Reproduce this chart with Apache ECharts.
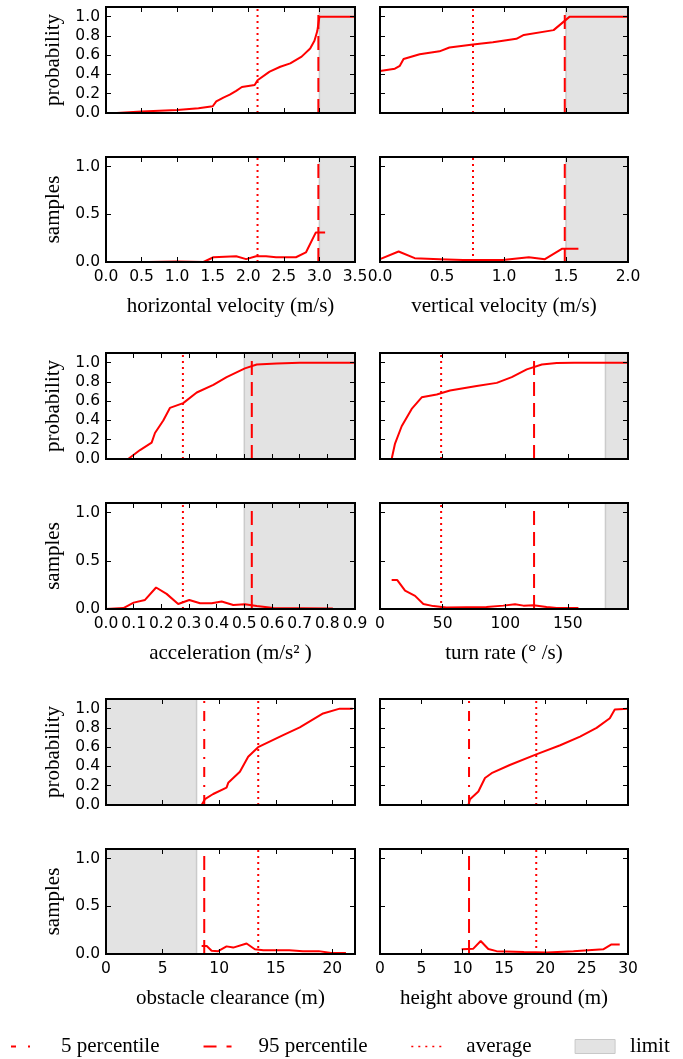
<!DOCTYPE html>
<html><head><meta charset="utf-8">
<script src="https://cdn.jsdelivr.net/npm/echarts@6/dist/echarts.min.js"></script>
<style>html,body{margin:0;padding:0;background:#fff}#c{width:683px;height:1059px}</style>
</head><body><div id="c"></div><script>
// ---- data ----
const varNames = ['horizontal velocity (m/s)', 'vertical velocity (m/s)', 'acceleration (m/s² )', 'turn rate (° /s)', 'obstacle clearance (m)', 'height above ground (m)'];
const xMaxes = [3.5, 2.0, 0.9, 198, 22, 30];
const xIntervals = [0.5, 0.5, 0.1, 50, 5, 5];
const xDecimals = [1, 1, 1, 0, 0, 0];
const showXMaxLabel = [true, true, true, false, false, true];
const yLabels = ['probability', 'samples'];
const yMax = 1.1;
const yIntervals = [0.2, 0.5];

const averages = [2.13, 0.75, 0.278, 48.8, 13.45, 18.9];
const percentile95 = [2.985, 1.49, 0.527, 123, null, null];
const percentile5 = [null, null, null, null, 8.68, 10.77];
const limitStart = [3.0, 1.5, 0.5, 180, 0, null];
const limitEnd = [3.5, 2.0, 0.9, 198, 8.0, null];
const limitEdge = [3.0, 1.5, 0.5, 180, 8.0, null];

const hvProbX = [0.15, 0.5, 1.0, 1.3, 1.5, 1.55, 1.65, 1.74, 1.83, 1.91, 2.09, 2.13, 2.3, 2.45, 2.59, 2.75, 2.87, 2.93, 2.97, 3.0, 3.5];
const hvProbY = [0.0, 0.015, 0.03, 0.05, 0.07, 0.12, 0.16, 0.19, 0.23, 0.27, 0.29, 0.34, 0.43, 0.48, 0.515, 0.585, 0.67, 0.75, 0.85, 1.0, 1.0];
const hvSampX = [0.15, 0.6, 1.0, 1.37, 1.51, 1.83, 1.97, 2.11, 2.25, 2.39, 2.67, 2.81, 2.95, 3.08];
const hvSampY = [0.0, 0.0, 0.005, 0.0, 0.05, 0.06, 0.03, 0.06, 0.06, 0.05, 0.05, 0.10, 0.31, 0.31];

const vvProbX = [0, 0.12, 0.16, 0.19, 0.32, 0.48, 0.56, 0.75, 0.91, 1.1, 1.16, 1.4, 1.53, 2.0];
const vvProbY = [0.436, 0.46, 0.49, 0.56, 0.61, 0.64, 0.68, 0.71, 0.735, 0.77, 0.81, 0.86, 1.0, 1.0];
const vvSampX = [0, 0.15, 0.28, 0.48, 0.67, 0.99, 1.2, 1.33, 1.47, 1.6];
const vvSampY = [0.03, 0.11, 0.04, 0.03, 0.02, 0.02, 0.05, 0.03, 0.14, 0.14];

const accProbX = [0, 0.08, 0.123, 0.165, 0.177, 0.207, 0.231, 0.279, 0.328, 0.388, 0.436, 0.502, 0.545, 0.617, 0.7, 0.9];
const accProbY = [0, 0, 0.093, 0.17, 0.27, 0.40, 0.53, 0.58, 0.69, 0.77, 0.85, 0.94, 0.98, 0.99, 1.0, 1.0];
const accSampX = [0, 0.063, 0.1, 0.141, 0.181, 0.219, 0.261, 0.301, 0.34, 0.382, 0.418, 0.46, 0.502, 0.545, 0.605, 0.82];
const accSampY = [0, 0.01, 0.066, 0.094, 0.223, 0.157, 0.052, 0.094, 0.06, 0.06, 0.077, 0.042, 0.05, 0.03, 0.01, 0.005];

const trProbX = [9.3, 12, 17.3, 25.3, 33.3, 45.3, 55.9, 77.2, 93.2, 105.2, 117.2, 129.2, 141.1, 155, 198];
const trProbY = [0, 0.16, 0.34, 0.52, 0.64, 0.67, 0.71, 0.757, 0.79, 0.85, 0.93, 0.98, 0.995, 1.0, 1.0];
const trSampX = [9.3, 13.8, 20, 28, 34.6, 42.6, 53, 85, 98.5, 107.8, 114.5, 122.5, 133, 141, 158.4];
const trSampY = [0.30, 0.30, 0.19, 0.136, 0.052, 0.03, 0.016, 0.02, 0.035, 0.05, 0.035, 0.04, 0.02, 0.01, 0.01];

const obProbX = [8.45, 8.74, 9.47, 10.65, 10.8, 11.83, 12.56, 13.44, 15.65, 17.12, 19.18, 20.65, 21.8];
const obProbY = [0, 0.06, 0.114, 0.18, 0.23, 0.345, 0.50, 0.60, 0.726, 0.806, 0.95, 1.0, 1.0];
const obSampX = [8.45, 8.9, 9.33, 9.91, 10.65, 11.24, 12.42, 13.15, 13.9, 16.2, 17.4, 18.8, 19.9, 21.2];
const obSampY = [0.084, 0.084, 0.035, 0.03, 0.08, 0.067, 0.11, 0.05, 0.04, 0.04, 0.03, 0.03, 0.01, 0.01];

const hgProbX = [10.08, 10.69, 10.89, 11.9, 12.7, 13.5, 15.7, 18.9, 21.8, 24.2, 26.2, 27.8, 28.4, 28.6, 30];
const hgProbY = [0, 0, 0.06, 0.14, 0.28, 0.33, 0.415, 0.526, 0.62, 0.71, 0.80, 0.90, 0.99, 1.0, 1.0];
const hgSampX = [9.88, 11.29, 12.18, 13.1, 14.1, 17.4, 20.2, 23.4, 27.0, 28.0, 29.0];
const hgSampY = [0.049, 0.056, 0.136, 0.052, 0.03, 0.02, 0.015, 0.03, 0.049, 0.10, 0.10];

const probXs = [hvProbX, vvProbX, accProbX, trProbX, obProbX, hgProbX];
const probYs = [hvProbY, vvProbY, accProbY, trProbY, obProbY, hgProbY];
const sampXs = [hvSampX, vvSampX, accSampX, trSampX, obSampX, hgSampX];
const sampYs = [hvSampY, vvSampY, accSampY, trSampY, obSampY, hgSampY];

// ---- layout / style ----
const colLeft = [106, 380], colWidth = [249, 248];
const rowTops = [7, 157, 353, 503, 699, 849];
const rowHeights = [106, 105, 106, 106, 106, 105];
const RED = '#ff0000';
const SERIF = 'Liberation Serif';
const SANS = 'DejaVu Sans';
const DOT = [2, 4], DASH = [14, 7], DASHDOT = [10, 8, 2, 8];

const zip = (xs, ys) => xs.map((x, i) => [x, ys[i]]);
const frame = {show: true, onZero: false, lineStyle: {color: '#000', width: 2, cap: 'square'}};
const tick = {show: true, inside: true, length: 5, lineStyle: {color: '#000', width: 1}};

const grids = [], xAxes = [], yAxes = [], series = [];
for (let v = 0; v < 6; v++) {
  const col = v % 2, pr = Math.floor(v / 2);
  for (let k = 0; k < 2; k++) {
    const g = 2 * v + k;
    const r = pr * 2 + k;
    grids.push({left: colLeft[col], top: rowTops[r], width: colWidth[col], height: rowHeights[r], containLabel: false});
    const dec = xDecimals[v];
    const xBase = {gridIndex: g, type: 'value', min: 0, max: xMaxes[v], interval: xIntervals[v], z: 10,
      axisLine: frame, axisTick: tick, splitLine: {show: false}};
    xAxes.push(Object.assign({}, xBase, {position: 'bottom',
      axisLabel: {show: k === 1, margin: 7, fontFamily: SANS, fontSize: 15.5, color: '#000',
        showMaxLabel: showXMaxLabel[v], showMinLabel: true, formatter: val => val.toFixed(dec)},
      name: k === 1 ? varNames[v] : '', nameLocation: 'middle', nameGap: 34,
      nameTextStyle: {fontFamily: SERIF, fontSize: 21, color: '#000'}}));
    xAxes.push(Object.assign({}, xBase, {position: 'top', axisLabel: {show: false}}));
    const yBase = {gridIndex: g, type: 'value', min: 0, max: yMax, interval: yIntervals[k], z: 10,
      axisLine: frame, axisTick: tick, splitLine: {show: false}};
    yAxes.push(Object.assign({}, yBase, {position: 'left',
      axisLabel: {show: col === 0, margin: 6, fontFamily: SANS, fontSize: 15.5, color: '#000',
        showMaxLabel: false, formatter: val => val.toFixed(1)},
      name: col === 0 ? yLabels[k] : '', nameLocation: 'middle', nameGap: 42, nameRotate: 90,
      nameTextStyle: {fontFamily: SERIF, fontSize: 21, color: '#000'}}));
    yAxes.push(Object.assign({}, yBase, {position: 'right', axisLabel: {show: false}}));

    const ax = {xAxisIndex: 2 * g, yAxisIndex: 2 * g};
    if (limitStart[v] !== null) {
      series.push(Object.assign({type: 'line', name: 'limit', data: [], z: 1, silent: true,
        markArea: {silent: true, itemStyle: {color: '#e3e3e3'}, data: [[{xAxis: limitStart[v]}, {xAxis: limitEnd[v]}]]}}, ax));
      series.push(Object.assign({type: 'line', data: [[limitEdge[v], 0], [limitEdge[v], yMax]], z: 1, silent: true,
        symbol: 'none', lineStyle: {color: '#cbcbcb', width: 1.5}}, ax));
    }
    const xs = k === 0 ? probXs[v] : sampXs[v];
    const ys = k === 0 ? probYs[v] : sampYs[v];
    series.push(Object.assign({type: 'line', data: zip(xs, ys), symbol: 'none', showSymbol: false, silent: true, z: 3,
      lineStyle: {color: RED, width: 2}}, ax));
    series.push(Object.assign({type: 'line', name: 'average', data: [[averages[v], 0], [averages[v], yMax]], symbol: 'none', silent: true, z: 4,
      lineStyle: {color: RED, width: 2, type: DOT}, itemStyle: {color: RED}}, ax));
    if (percentile95[v] !== null) {
      series.push(Object.assign({type: 'line', name: '95 percentile', data: [[percentile95[v], 0], [percentile95[v], yMax]], symbol: 'none', silent: true, z: 4,
        lineStyle: {color: RED, width: 2, type: DASH}, itemStyle: {color: RED}}, ax));
    }
    if (percentile5[v] !== null) {
      series.push(Object.assign({type: 'line', name: '5 percentile', data: [[percentile5[v], 0], [percentile5[v], yMax]], symbol: 'none', silent: true, z: 4,
        lineStyle: {color: RED, width: 2, type: k === 0 ? DASHDOT : DASH}, itemStyle: {color: RED}}, ax));
    }
  }
}

const hidden = {color: 'rgba(0,0,0,0)', borderColor: 'rgba(0,0,0,0)', borderWidth: 0, opacity: 0};
const chart = echarts.init(document.getElementById('c'), null, {renderer: 'canvas'});
chart.setOption({
  animation: false,
  backgroundColor: '#fff',
  grid: grids, xAxis: xAxes, yAxis: yAxes, series: series,
  legend: {
    show: true, left: 0, top: 1031, itemWidth: 40, itemHeight: 14, itemGap: 43, selectedMode: false,
    textStyle: {fontFamily: SERIF, fontSize: 21, color: '#000', padding: [0, 0, 0, 10]},
    data: [
      {name: '5 percentile', lineStyle: {color: RED, width: 2, type: [0, 5, 5, 12, 2, 40]}, itemStyle: hidden},
      {name: '95 percentile', lineStyle: {color: RED, width: 2, type: [13, 10, 5, 40]}, itemStyle: hidden},
      {name: 'average', lineStyle: {color: RED, width: 1.5, type: [2, 5, 2, 5, 2, 5, 2, 5, 2, 40]}, itemStyle: hidden},
      {name: 'limit', icon: 'rect', itemStyle: {color: '#e3e3e3', borderColor: '#c8c8c8', borderWidth: 1}}
    ]
  }
});
</script></body></html>
